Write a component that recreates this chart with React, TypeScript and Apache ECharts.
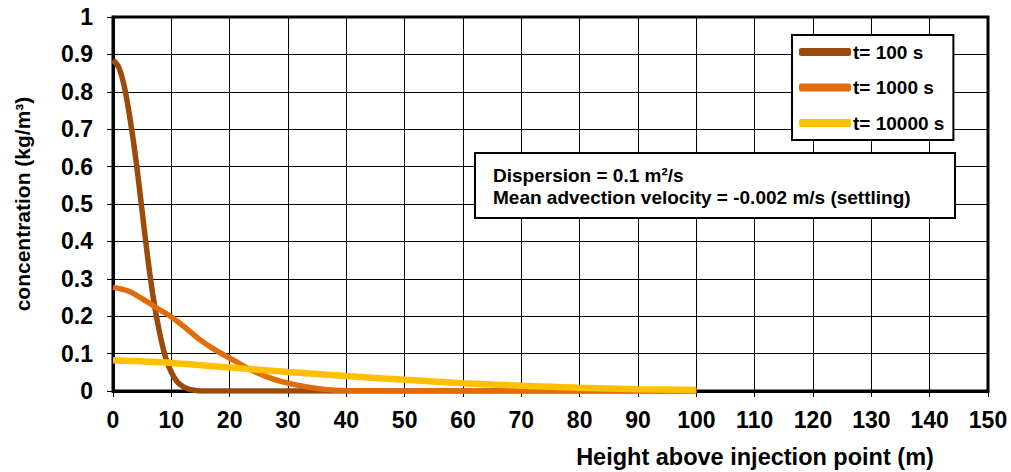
import React, { useEffect, useRef } from "react";
import * as echarts from "echarts";

const seriesNames = ["t= 100 s", "t= 1000 s", "t= 10000 s"];
const t100: [number, number][] = [
  [0, 0.885], [1, 0.865], [2, 0.81], [3, 0.72], [4, 0.61], [5, 0.48], [6, 0.35],
  [7, 0.24], [8, 0.155], [9, 0.09], [10, 0.05], [11, 0.025], [12, 0.012],
  [13, 0.005], [14, 0.002], [15, 0], [100, 0],
];
const t1000: [number, number][] = [
  [0, 0.277], [2.5, 0.268], [5, 0.247], [7.5, 0.222], [10, 0.198], [12.5, 0.168],
  [15, 0.136], [17.5, 0.11], [20, 0.088], [22.5, 0.066], [25, 0.047], [27.5, 0.032],
  [30, 0.021], [32.5, 0.013], [35, 0.007], [37.5, 0.003], [40, 0.0015], [45, 0.0005],
  [50, 0], [100, 0],
];
const t10000: [number, number][] = [
  [0, 0.082], [10, 0.075], [20, 0.063], [30, 0.051], [40, 0.04], [50, 0.03],
  [60, 0.021], [70, 0.014], [80, 0.009], [90, 0.005], [100, 0.003],
];
const colors = ["#9A4B09", "#E36C0A", "#FFC000"];
const widths = [5.5, 5.5, 6.5];
const xTitle = "Height above injection point (m)";
const yTitle = "concentration (kg/m³)";
const noteLines = ["Dispersion = 0.1 m²/s", "Mean advection velocity = -0.002 m/s (settling)"];

const FONT = "'Liberation Sans', Arial, sans-serif";

export default function App() {
  const ref = useRef<HTMLDivElement>(null);
  useEffect(() => {
    if (!ref.current) return;
    const chart = echarts.init(ref.current, null, { renderer: "svg" });
    const data = [t100, t1000, t10000];
    chart.setOption({
      animation: false,
      backgroundColor: "#ffffff",
      grid: {
        left: 113,
        right: 23,
        top: 17,
        bottom: 81,
        show: true,
        borderColor: "#000",
        borderWidth: 3,
      },
      xAxis: {
        type: "value",
        min: 0,
        max: 150,
        interval: 10,
        axisLine: { show: true, lineStyle: { color: "#000", width: 3 } },
        axisTick: { show: true, length: 6, lineStyle: { color: "#000" } },
        splitLine: { show: true, lineStyle: { color: "#000", width: 1 } },
        axisLabel: { color: "#000", fontSize: 23, fontWeight: "bold", fontFamily: FONT, margin: 17 },
      },
      yAxis: {
        type: "value",
        min: 0,
        max: 1,
        interval: 0.1,
        axisLine: { show: true, lineStyle: { color: "#000", width: 3 } },
        axisTick: { show: true, length: 6, lineStyle: { color: "#000" } },
        splitLine: { show: true, lineStyle: { color: "#000", width: 1 } },
        axisLabel: { color: "#000", fontSize: 23, fontWeight: "bold", fontFamily: FONT, margin: 20 },
      },
      legend: {
        orient: "vertical",
        left: 792,
        top: 35,
        data: seriesNames,
        icon: "roundRect",
        itemWidth: 52,
        itemHeight: 8,
        itemGap: 13.5,
        padding: [6, 9, 6, 7],
        borderColor: "#000",
        borderWidth: 2,
        backgroundColor: "#fff",
        textStyle: { color: "#000", fontSize: 19, fontWeight: "bold", fontFamily: FONT, lineHeight: 22, padding: [0, 0, 0, -3] },
      },
      graphic: [
        {
          type: "rect",
          shape: { x: 475, y: 153, width: 480, height: 65 },
          style: { fill: "#fff", stroke: "#000", lineWidth: 2 },
          z: 10,
        },
        {
          type: "text",
          x: 493,
          y: 175,
          z: 11,
          style: { text: noteLines[0], fill: "#000", font: `bold 19px ${FONT}`, textVerticalAlign: "middle" },
        },
        {
          type: "text",
          x: 493,
          y: 197,
          z: 11,
          style: { text: noteLines[1], fill: "#000", font: `bold 19px ${FONT}`, textVerticalAlign: "middle" },
        },
        {
          type: "text",
          x: 755,
          y: 457,
          style: { text: xTitle, fill: "#000", font: `bold 23.5px ${FONT}`, textAlign: "center", textVerticalAlign: "middle" },
        },
        {
          type: "text",
          x: 22,
          y: 204,
          rotation: Math.PI / 2,
          style: { text: yTitle, fill: "#000", font: `bold 21px ${FONT}`, textAlign: "center", textVerticalAlign: "middle" },
        },
      ],
      series: data.map((d, i) => ({
        name: seriesNames[i],
        type: "line",
        data: d,
        showSymbol: false,
        symbol: "none",
        smooth: 0.3,
        color: colors[i],
        lineStyle: { color: colors[i], width: widths[i] },
        z: 2 + i,
      })),
    });
    return () => chart.dispose();
  }, []);
  return <div ref={ref} style={{ width: 1011, height: 472, position: "absolute", left: 0, top: 0 }} />;
}
